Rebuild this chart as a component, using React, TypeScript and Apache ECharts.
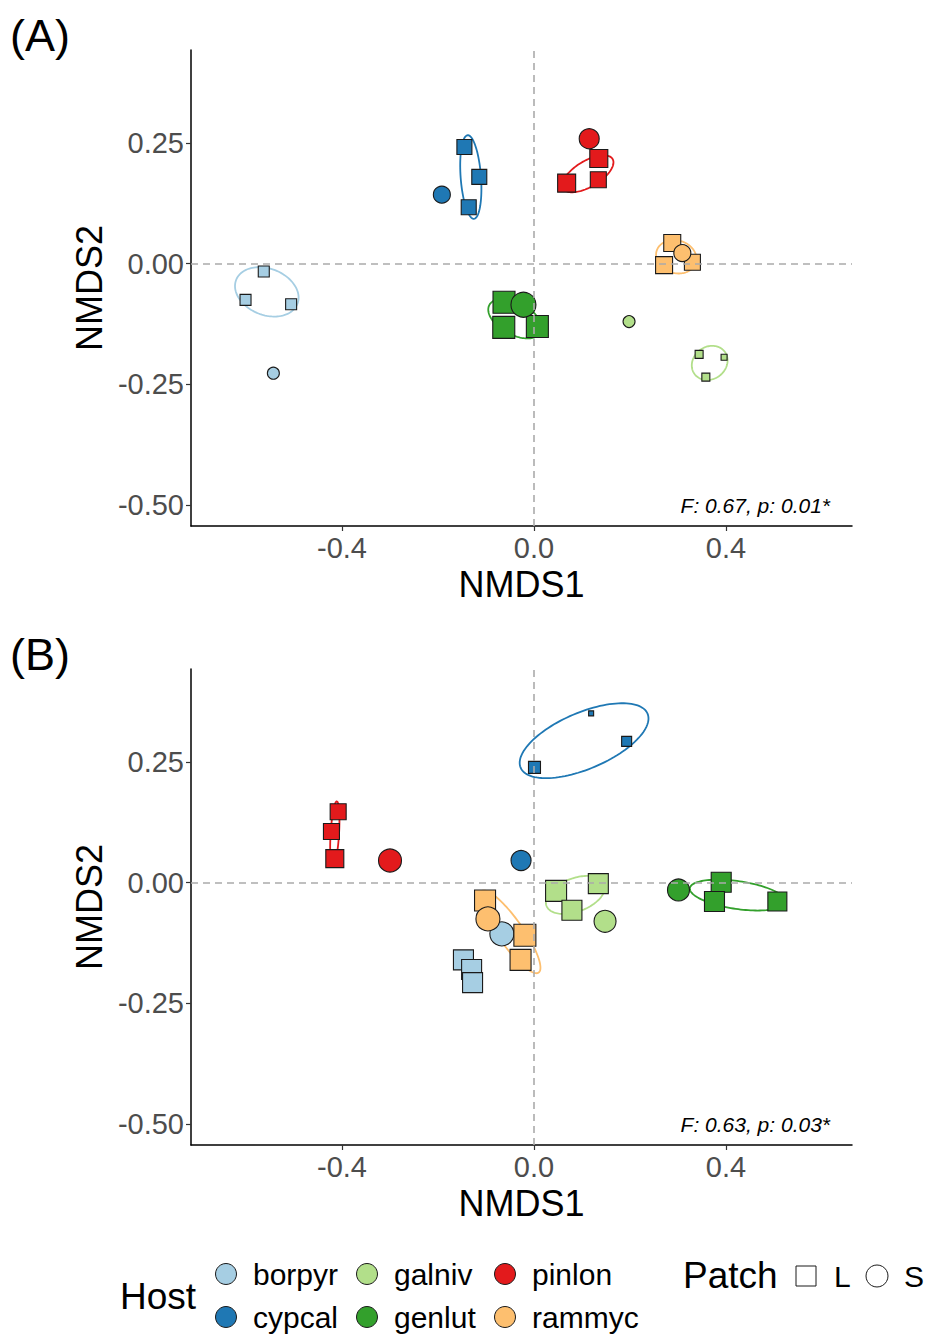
import React, { useEffect, useRef } from "react";
import * as echarts from "echarts";

const FONT = "'Liberation Sans', Arial, Helvetica, sans-serif";

const hosts = ["borpyr", "cypcal", "galniv", "genlut", "pinlon", "rammyc"];
const hostColors = ["#A6CEE3", "#1F78B4", "#B2DF8A", "#33A02C", "#E31A1C", "#FDBF6F"];
const patches = ["L", "S"];

// Panel A
const hostA = [0, 0, 0, 0, 1, 1, 1, 1, 2, 2, 2, 2, 3, 3, 3, 3, 4, 4, 4, 4, 5, 5, 5, 5];
const patchA = ["L", "L", "L", "S", "L", "L", "L", "S", "L", "L", "L", "S", "L", "L", "L", "S", "L", "L", "L", "S", "L", "L", "L", "S"];
const xA = [-0.563, -0.601, -0.506, -0.543, -0.145, -0.114, -0.136, -0.192, 0.344, 0.396, 0.358, 0.198, -0.0625, -0.063, 0.007, -0.022, 0.135, 0.068, 0.134, 0.115, 0.288, 0.271, 0.330, 0.309];
const yA = [-0.016, -0.075, -0.084, -0.227, 0.242, 0.180, 0.117, 0.143, -0.188, -0.194, -0.235, -0.120, -0.080, -0.132, -0.130, -0.085, 0.218, 0.167, 0.174, 0.259, 0.043, -0.003, 0.003, 0.022];
const sizeA = [11, 11, 11, 12, 15, 15, 15, 17, 8, 6, 8, 12, 22, 22, 22, 25, 18, 18, 16, 20, 17, 17, 16, 17];

// Panel B
const hostB = [0, 0, 0, 0, 1, 1, 1, 1, 2, 2, 2, 2, 3, 3, 3, 3, 4, 4, 4, 4, 5, 5, 5, 5];
const patchB = ["L", "L", "L", "S", "L", "L", "L", "S", "L", "L", "L", "S", "L", "L", "L", "S", "L", "L", "L", "S", "L", "L", "L", "S"];
const xB = [-0.147, -0.130, -0.128, -0.067, 0.001, 0.119, 0.193, -0.027, 0.046, 0.134, 0.079, 0.148, 0.390, 0.376, 0.507, 0.301, -0.408, -0.422, -0.415, -0.300, -0.102, -0.019, -0.028, -0.096];
const yB = [-0.160, -0.180, -0.207, -0.106, 0.239, 0.351, 0.293, 0.046, -0.017, -0.002, -0.057, -0.080, 0.001, -0.039, -0.039, -0.015, 0.147, 0.106, 0.050, 0.046, -0.037, -0.109, -0.160, -0.075];
const sizeB = [20, 20, 20, 24, 12, 5, 10, 20, 21, 20, 20, 22, 20, 20, 19, 22, 16, 16, 18, 23, 21, 22, 21, 24];

const statTexts = ["F: 0.67, p: 0.01*", "F: 0.63, p: 0.03*"];
const panelLabels = ["(A)", "(B)"];
const xTicks = [-0.4, 0, 0.4];
const yTicks = [-0.5, -0.25, 0, 0.25];

const xMin = -0.7146, xMax = 0.6625, yMin = -0.5436, yMax = 0.4429;
const ELLIPSE_SCALE = 1.2;

function ellipseFor(xs: number[], ys: number[]): number[][] {
  const n = xs.length;
  const mx = xs.reduce((a, b) => a + b, 0) / n;
  const my = ys.reduce((a, b) => a + b, 0) / n;
  let sxx = 0, syy = 0, sxy = 0;
  for (let i = 0; i < n; i++) {
    sxx += (xs[i] - mx) ** 2;
    syy += (ys[i] - my) ** 2;
    sxy += (xs[i] - mx) * (ys[i] - my);
  }
  sxx /= n - 1; syy /= n - 1; sxy /= n - 1;
  const tr = sxx + syy, det = sxx * syy - sxy * sxy;
  const disc = Math.sqrt(Math.max(tr * tr / 4 - det, 0));
  const l1 = tr / 2 + disc, l2 = Math.max(tr / 2 - disc, 0);
  const th = 0.5 * Math.atan2(2 * sxy, sxx - syy);
  const c = Math.sqrt(((n - 1) * (n - 1)) / n) * ELLIPSE_SCALE;
  const r1 = Math.sqrt(l1) * c, r2 = Math.sqrt(l2) * c;
  const pts: number[][] = [];
  for (let k = 0; k < 120; k++) {
    const t = (k / 120) * Math.PI * 2;
    const ex = r1 * Math.cos(t), ey = r2 * Math.sin(t);
    pts.push([mx + ex * Math.cos(th) - ey * Math.sin(th), my + ex * Math.sin(th) + ey * Math.cos(th)]);
  }
  return pts;
}

function buildPanel(hostArr: number[], patchArr: string[], xs: number[], ys: number[], sizes: number[]) {
  const scatterData = xs.map((x, i) => ({
    value: [x, ys[i]],
    symbol: patchArr[i] === "L" ? "rect" : "circle",
    symbolSize: sizes[i],
    itemStyle: { color: hostColors[hostArr[i]], borderColor: "#1a1a1a", borderWidth: 1.1, opacity: 1 },
  }));
  const ellipses = hosts.map((_, h) => {
    const idx = hostArr.map((hh, i) => (hh === h && patchArr[i] === "L" ? i : -1)).filter((i) => i >= 0);
    return ellipseFor(idx.map((i) => xs[i]), idx.map((i) => ys[i]));
  });
  return { scatterData, ellipses };
}

export default function App() {
  const ref = useRef<HTMLDivElement>(null);
  useEffect(() => {
    document.body.style.margin = "0";
    const chart = echarts.init(ref.current!, null, { renderer: "svg" });
    const panels = [
      buildPanel(hostA, patchA, xA, yA, sizeA),
      buildPanel(hostB, patchB, xB, yB, sizeB),
    ];
    const gridTops = [50, 669];
    const grids = gridTops.map((t) => ({ left: 191, top: t, width: 661, height: 476, containLabel: false }));
    const xAxes = gridTops.map((_, g) => ({
      type: "value", gridIndex: g, min: xMin, max: xMax,
      axisLine: { show: true, onZero: false, lineStyle: { color: "#000", width: 1.5 } },
      axisTick: { show: true, length: 5, customValues: xTicks, lineStyle: { color: "#333", width: 1.2 } },
      axisLabel: { customValues: xTicks, formatter: (v: number) => v.toFixed(1), fontSize: 29, color: "#4D4D4D", margin: 7, fontFamily: FONT },
      splitLine: { show: false },
      name: "NMDS1", nameLocation: "middle", nameGap: 40,
      nameTextStyle: { fontSize: 36, color: "#000", fontFamily: FONT },
    }));
    const yAxes = gridTops.map((_, g) => ({
      type: "value", gridIndex: g, min: yMin, max: yMax,
      axisLine: { show: true, onZero: false, lineStyle: { color: "#000", width: 1.5 } },
      axisTick: { show: true, length: 5, customValues: yTicks, lineStyle: { color: "#333", width: 1.2 } },
      axisLabel: { customValues: yTicks, formatter: (v: number) => v.toFixed(2), fontSize: 29, color: "#4D4D4D", margin: 7, fontFamily: FONT },
      splitLine: { show: false },
      name: "NMDS2", nameLocation: "middle", nameGap: 84, nameRotate: 90,
      nameTextStyle: { fontSize: 36, color: "#000", fontFamily: FONT },
    }));
    const series: any[] = [];
    panels.forEach((p, g) => {
      series.push({
        type: "custom", xAxisIndex: g, yAxisIndex: g, z: 1, silent: true,
        coordinateSystem: "cartesian2d",
        data: hosts.map((_, h) => [p.ellipses[h][0][0], p.ellipses[h][0][1], h]),
        encode: { x: 0, y: 1 },
        renderItem: (params: any, api: any) => {
          const h = api.value(2);
          const pts = p.ellipses[h].map((pt) => api.coord(pt));
          return { type: "polygon", shape: { points: pts }, style: { fill: "none", stroke: hostColors[h], lineWidth: 1.8 } };
        },
        markLine: {
          silent: true, symbol: "none", label: { show: false },
          lineStyle: { type: [7, 5], color: "#ABABAB", width: 1.6 },
          data: [{ xAxis: 0 }, { yAxis: 0 }],
        },
      });
      series.push({
        type: "scatter", xAxisIndex: g, yAxisIndex: g, z: 3,
        itemStyle: { opacity: 1 },
        data: p.scatterData,
      });
    });

    const graphics: any[] = [];
    const txt = (text: string, x: number, y: number, font: string, align = "left", fill = "#000") => ({
      type: "text", x, y, silent: true,
      style: { text, font, fill, textAlign: align, textVerticalAlign: "middle", align, verticalAlign: "middle" },
    });
    panelLabels.forEach((l, g) => graphics.push(txt(l, 10, gridTops[g] - 15, `45px ${FONT}`)));
    statTexts.forEach((s, g) => graphics.push(txt(s, 830, gridTops[g] + 455, `italic 21px ${FONT}`, "right")));
    // Host legend
    graphics.push(txt("Host", 120, 1296, `37px ${FONT}`));
    const colX = [226, 367, 505];
    const rowY = [1274, 1317];
    hosts.forEach((h, i) => {
      const cx = colX[Math.floor(i / 2)], cy = rowY[i % 2];
      graphics.push({ type: "circle", shape: { cx, cy, r: 10.5 }, style: { fill: hostColors[i], stroke: "#1a1a1a", lineWidth: 1 } });
      graphics.push(txt(h, cx + 27, cy, `30px ${FONT}`));
    });
    // Patch legend
    graphics.push(txt("Patch", 683, 1275, `37px ${FONT}`));
    graphics.push({ type: "rect", shape: { x: 796, y: 1266, width: 20, height: 20 }, style: { fill: "none", stroke: "#1a1a1a", lineWidth: 1 } });
    graphics.push(txt(patches[0], 834, 1276, `30px ${FONT}`));
    graphics.push({ type: "circle", shape: { cx: 877, cy: 1276, r: 11 }, style: { fill: "none", stroke: "#1a1a1a", lineWidth: 1 } });
    graphics.push(txt(patches[1], 904, 1276, `30px ${FONT}`));

    chart.setOption({
      animation: false,
      backgroundColor: "#fff",
      textStyle: { fontFamily: FONT },
      grid: grids,
      xAxis: xAxes,
      yAxis: yAxes,
      series,
      graphic: graphics,
    });
    return () => chart.dispose();
  }, []);
  return <div ref={ref} style={{ width: 927, height: 1336 }} />;
}
